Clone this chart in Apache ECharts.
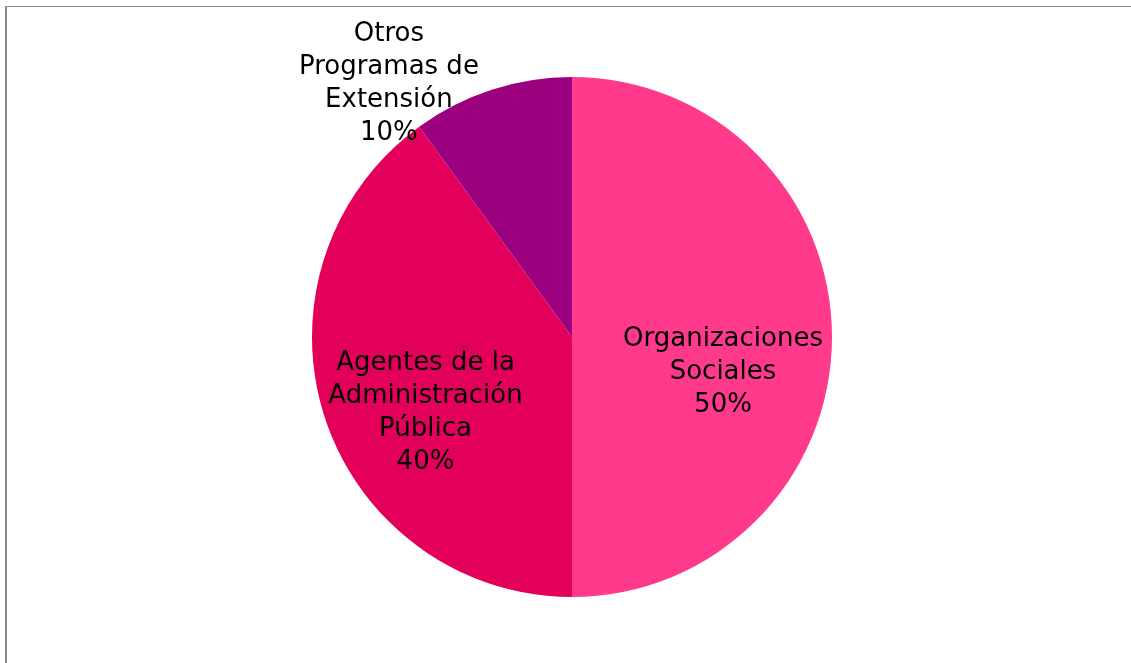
<!DOCTYPE html>
<html>
<head>
<meta charset="utf-8">
<script src="https://cdn.jsdelivr.net/npm/echarts@6/dist/echarts.min.js"></script>
<style>
html,body{margin:0;padding:0;background:#fff;width:1131px;height:663px;overflow:hidden;}
#frame{position:absolute;left:5px;top:6px;width:1140px;height:670px;border-left:2px solid #8a8a8a;border-top:1px solid #8a8a8a;box-sizing:border-box;}
#chart{position:absolute;left:0;top:0;width:1131px;height:663px;}
</style>
</head>
<body>
<div id="frame"></div>
<div id="chart"></div>
<script>
const categories = ["Organizaciones\nSociales", "Agentes de la\nAdministración\nPública", "Otros\nProgramas de\nExtensión"];
const values = [50, 40, 10];
const colors = ["#FF3A8C", "#E2005A", "#9B007E"];
const labelShift = [[18, 35], [-20, 35], [-142, -127]];

const chart = echarts.init(document.getElementById('chart'), null, {renderer: 'canvas'});
chart.setOption({
  animation: false,
  series: [{
    type: 'pie',
    center: [572, 337],
    radius: 260,
    startAngle: 90,
    clockwise: true,
    data: categories.map((c, i) => ({name: c, value: values[i], itemStyle: {color: colors[i]}})),
    itemStyle: {borderWidth: 0},
    label: {
      position: 'inside',
      formatter: p => p.name + '\n' + p.percent.toFixed(0) + '%',
      fontFamily: 'DejaVu Sans',
      fontSize: 26,
      lineHeight: 33,
      color: '#000',
      align: 'center'
    },
    labelLine: {show: false},
    labelLayout: p => ({dx: labelShift[p.dataIndex][0], dy: labelShift[p.dataIndex][1]})
  }]
});
</script>
</body>
</html>
